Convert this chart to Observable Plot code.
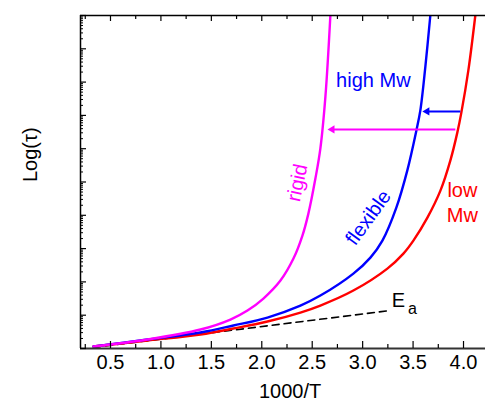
<!DOCTYPE html>
<html><head><meta charset="utf-8">
<script src="https://cdn.jsdelivr.net/npm/d3@7"></script>
<script src="https://cdn.jsdelivr.net/npm/@observablehq/plot@0.6"></script>
<style>body{margin:0;background:#fff;}</style>
</head><body><div id="chart"></div>
<script>
// x = 1000/T, y = log10(tau) in decades above the bottom of the axis
const rigidX = [0.332,0.867,1.392,1.689,1.858,2.016,2.185,2.314,2.403,2.462,2.532,2.581,2.631,2.680];
const rigidY = [0.06,0.27,0.57,0.87,1.14,1.50,2.04,2.70,3.39,4.05,5.11,6.01,7.57,10.0];
const flexX  = [0.332,0.867,1.392,1.719,2.056,2.383,2.581,2.908,3.077,3.196,3.334,3.443,3.533,3.572,3.622,3.671];
const flexY  = [0.06,0.27,0.48,0.69,0.93,1.29,1.59,2.25,2.73,3.24,4.23,5.35,6.55,7.15,8.47,10.0];
const lowX   = [0.332,0.867,1.392,1.719,2.056,2.383,2.581,2.908,3.245,3.404,3.503,3.642,3.771,3.870,3.939,3.979,4.048,4.117];
const lowY   = [0.06,0.24,0.42,0.60,0.81,1.08,1.29,1.74,2.40,2.85,3.24,3.93,4.74,5.65,6.49,7.09,8.35,10.0];
const eaX    = [0.332,3.275];
const eaY    = [0.03,1.14];
// arrows: [fromX, toX, y]
const arrowBlue = [3.969, 3.592, 7.12];
const arrowMag  = [3.919, 2.651, 6.58];
// ticks
const xMajor = [0.5,1.0,1.5,2.0,2.5,3.0,3.5,4.0];
const xMinor = [0.25,0.75,1.25,1.75,2.25,2.75,3.25,3.75];
const yMajor = d3.range(0, 11);
const yMinor = d3.range(0, 10).flatMap(d => d3.range(2, 10).map(k => d + Math.log10(k)));

const toPts = (xs, ys) => xs.map((x, i) => ({x, y: ys[i]}));
const rigid = toPts(rigidX, rigidY), flex = toPts(flexX, flexY), low = toPts(lowX, lowY), ea = toPts(eaX, eaY);

const W = 485, H = 406, mL = 80, mR = 0, mT = 15, mB = 58;
const fw = W - mL - mR, fh = H - mT - mB;
const font = "Liberation Sans, Arial, Helvetica, sans-serif";

const plot = Plot.plot({
  width: W, height: H,
  marginLeft: mL, marginRight: mR, marginTop: mT, marginBottom: mB,
  style: {fontFamily: font, background: "#fff", color: "#000"},
  x: {domain: [0.2027, 4.218], axis: null},
  y: {domain: [0, 10], axis: null},
  marks: [
    // curves
    Plot.line(ea, {x: "x", y: "y", stroke: "#000", strokeWidth: 1.6, strokeDasharray: "7,5"}),
    Plot.line(low, {x: "x", y: "y", stroke: "#ff0000", strokeWidth: 2.4, curve: "catmull-rom", clip: true}),
    Plot.line(flex, {x: "x", y: "y", stroke: "#0000ff", strokeWidth: 2.4, curve: "catmull-rom", clip: true}),
    Plot.line(rigid, {x: "x", y: "y", stroke: "#ff00ff", strokeWidth: 2.4, curve: "catmull-rom", clip: true}),
    // arrows
    Plot.link([arrowBlue], {x1: d => d[0], x2: d => d[1] + 0.03, y1: d => d[2], y2: d => d[2], stroke: "#0000ff", strokeWidth: 2}),
    Plot.dot([arrowBlue], {x: d => d[1], y: d => d[2], symbol: "triangle", r: 3, rotate: -90, dx: 4.7, fill: "#0000ff", stroke: "none"}),
    Plot.link([arrowMag], {x1: d => d[0], x2: d => d[1] + 0.03, y1: d => d[2], y2: d => d[2], stroke: "#ff00ff", strokeWidth: 2}),
    Plot.dot([arrowMag], {x: d => d[1], y: d => d[2], symbol: "triangle", r: 3, rotate: -90, dx: 4.7, fill: "#ff00ff", stroke: "none"}),
    // frame lines
    Plot.ruleY([0], {stroke: "#333", strokeWidth: 2}),
    Plot.ruleY([10], {stroke: "#000", strokeWidth: 1.5}),
    Plot.ruleX([0.2027], {stroke: "#000", strokeWidth: 1.5}),
    // bottom ticks (inward)
    Plot.tickX(xMajor, {x: d => d, insetTop: fh - 7, stroke: "#000", strokeWidth: 1.2}),
    Plot.tickX(xMinor, {x: d => d, insetTop: fh - 4, stroke: "#000", strokeWidth: 1.2}),
    // top ticks (inward)
    Plot.tickX(xMajor, {x: d => d, insetBottom: fh - 6, stroke: "#000", strokeWidth: 1.2}),
    Plot.tickX(xMinor, {x: d => d, insetBottom: fh - 4, stroke: "#000", strokeWidth: 1.2}),
    // left ticks (inward)
    Plot.tickY(yMajor, {y: d => d, insetRight: fw - 6, stroke: "#000", strokeWidth: 1.2}),
    Plot.tickY(yMinor, {y: d => d, insetRight: fw - 3, stroke: "#000", strokeWidth: 1}),
    // x tick labels
    Plot.axisX({ticks: xMajor, tickSize: 0, tickPadding: 6, tickFormat: d => d.toFixed(1), fontSize: 20, label: null}),
    // axis titles
    Plot.text(["1000/T"], {x: 2.28, frameAnchor: "bottom", dy: 49, fontSize: 20, fill: "#000"}),
    Plot.text(["Log(τ)"], {frameAnchor: "left", dx: -50, rotate: -90, fontSize: 20, fill: "#000"}),
    // annotations
    Plot.text(["high Mw"], {x: 3.106, y: 8.05, fontSize: 20, fill: "#0000ff"}),
    Plot.text(["rigid"], {x: 2.353, y: 4.98, rotate: -78, fontSize: 20, fill: "#ff00ff"}),
    Plot.text(["flexible"], {x: 3.057, y: 3.93, rotate: -54, fontSize: 20, fill: "#0000ff"}),
    Plot.text(["low"], {x: 3.989, y: 4.74, fontSize: 20, fill: "#ff0000"}),
    Plot.text(["Mw"], {x: 3.989, y: 3.99, fontSize: 20, fill: "#ff0000"}),
    Plot.text(["E"], {x: 3.354, y: 1.44, fontSize: 20, fill: "#000"}),
    Plot.text(["a"], {x: 3.493, y: 1.18, fontSize: 16, fill: "#000"})
  ]
});
document.getElementById("chart").appendChild(plot);
</script>
</body></html>
